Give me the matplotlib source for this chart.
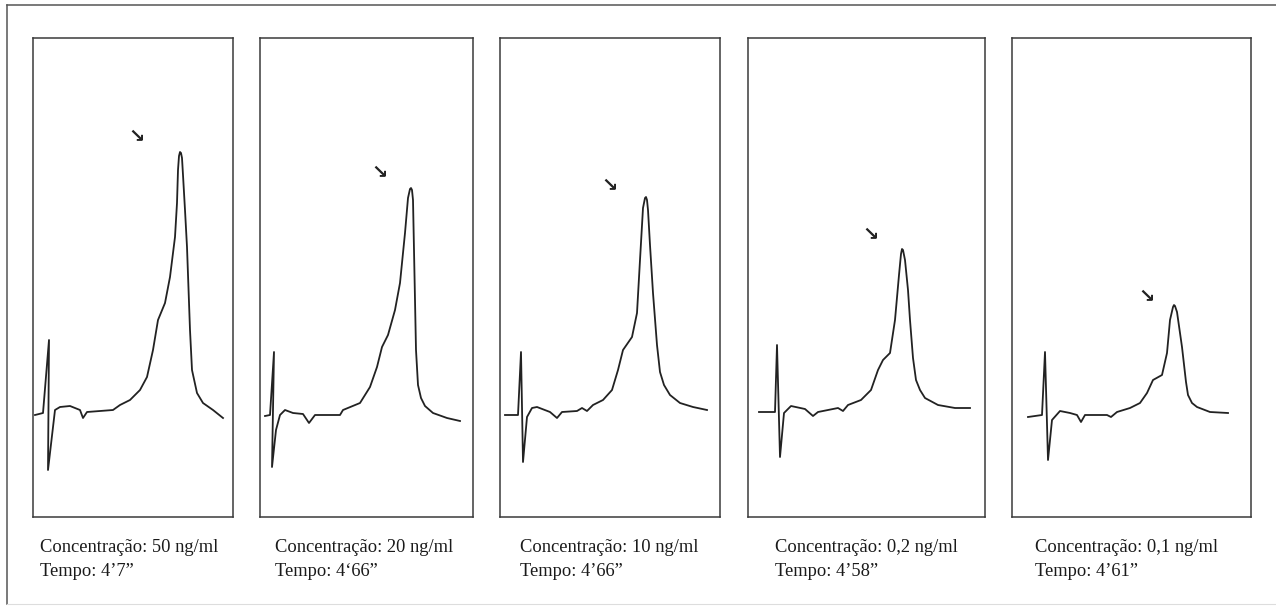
from matplotlib import pyplot as plt
from matplotlib.lines import Line2D

# Cromatogramas de cinco concentracoes (unidades arbitrarias)
plt.rcParams['font.family'] = ['Liberation Serif', 'DejaVu Serif']

concentracoes = ['50 ng/ml', '20 ng/ml', '10 ng/ml', '0,2 ng/ml', '0,1 ng/ml']
tempos = ['4\u20197\u201d', '4\u201866\u201d', '4\u201966\u201d', '4\u201958\u201d', '4\u201961\u201d']

t1 = [2, 10, 16, 15, 22, 27, 37, 47, 50, 54, 80, 87, 97, 107, 114, 120, 125, 132, 137, 142,
      144, 145, 146, 147, 148, 149, 150, 152, 154, 157, 159, 164, 170, 180, 190]
s1 = [5, 7, 80, -50, 10, 13, 14, 10, 2, 8, 10, 15, 20, 30, 43, 70, 100, 117, 143, 183,
      217, 250, 264, 268, 267, 262, 245, 210, 173, 90, 50, 27, 17, 10, 2]

t2 = [5, 10, 14, 12, 16, 20, 25, 33, 43, 49, 55, 80, 83, 100, 110, 117, 122, 128, 135, 140,
      145, 148, 150, 151, 152, 153, 154, 156, 158, 161, 165, 173, 187, 200]
s2 = [4, 5, 68, -47, -10, 5, 10, 7, 6, -3, 5, 5, 10, 17, 33, 53, 73, 85, 110, 137,
      187, 222, 231, 232, 230, 220, 170, 70, 35, 22, 14, 7, 2, -1]

t3 = [5, 18, 21, 23, 27, 32, 37, 50, 57, 62, 77, 82, 87, 93, 103, 112, 118, 123, 132, 137,
      140, 143, 145, 146, 147, 148, 150, 153, 157, 160, 164, 170, 180, 193, 207]
s3 = [5, 5, 68, -42, 3, 12, 13, 8, 2, 8, 9, 12, 9, 15, 20, 30, 50, 70, 83, 107,
      160, 212, 222, 223, 220, 210, 175, 127, 75, 48, 35, 25, 17, 13, 10]

t4 = [11, 27, 29, 32, 36, 43, 57, 65, 70, 90, 95, 100, 113, 123, 130, 135, 142, 147, 151, 153,
      154, 155, 157, 160, 162, 165, 168, 172, 177, 190, 207, 222]
s4 = [8, 8, 75, -37, 7, 14, 11, 4, 8, 12, 9, 15, 20, 30, 50, 60, 67, 100, 145, 166,
      171, 170, 160, 130, 100, 62, 40, 30, 22, 15, 12, 12]

t5 = [16, 30, 33, 36, 40, 48, 58, 65, 69, 73, 95, 99, 105, 118, 128, 135, 141, 150, 155, 158,
      161, 162, 163, 165, 170, 174, 176, 180, 185, 198, 216]
s5 = [3, 5, 68, -40, 0, 9, 7, 5, -2, 5, 5, 3, 8, 12, 17, 27, 40, 45, 67, 100,
      113, 115, 114, 108, 73, 38, 25, 17, 13, 8, 7]

# posicao da seta sobre o pico
seta_t = [104, 120, 110, 123, 135]
seta_s = [283, 247, 234, 185, 123]

tracos = [(t1, s1), (t2, s2), (t3, s3), (t4, s4), (t5, s5)]

W, H = 1276, 607
fig = plt.figure(figsize=(W / 100, H / 100), dpi=100)

# moldura externa
fig.add_artist(Line2D([7 / W, 7 / W], [1 - 604 / H, 1 - 5 / H], color='#555555', lw=1.1))
fig.add_artist(Line2D([7 / W, 1.0], [1 - 5 / H, 1 - 5 / H], color='#555555', lw=1.1))
fig.add_artist(Line2D([7 / W, 1.0], [1 - 604 / H, 1 - 604 / H], color='#dddddd', lw=0.8))

paineis = [(33, 233), (260, 473), (500, 720), (748, 985), (1012, 1251)]
rotulo_x = [40, 275, 520, 775, 1035]
topo, base = 38, 517

for i, (x0, x1) in enumerate(paineis):
    ax = fig.add_axes([x0 / W, 1 - base / H, (x1 - x0) / W, (base - topo) / H])
    t, s = tracos[i]
    ax.plot(t, s, color='#222222', lw=1.3, solid_joinstyle='round')
    ax.text(seta_t[i], seta_s[i], '\u2198', family='DejaVu Sans', fontsize=14,
            fontweight='bold', color='#222222', ha='center', va='center')
    ax.set_xlim(0, x1 - x0)
    ax.set_ylim(-97, 382)
    ax.set_xticks([])
    ax.set_yticks([])
    for sp in ax.spines.values():
        sp.set_color('#3a3a3a')
        sp.set_linewidth(1.1)
    fig.text(rotulo_x[i] / W, 1 - 548 / H, 'Concentração: ' + concentracoes[i],
             fontsize=13.3, color='#1a1a1a', ha='left', va='center')
    fig.text(rotulo_x[i] / W, 1 - 571 / H, 'Tempo: ' + tempos[i],
             fontsize=13.3, color='#1a1a1a', ha='left', va='center')

plt.savefig('out.png', dpi=100)
